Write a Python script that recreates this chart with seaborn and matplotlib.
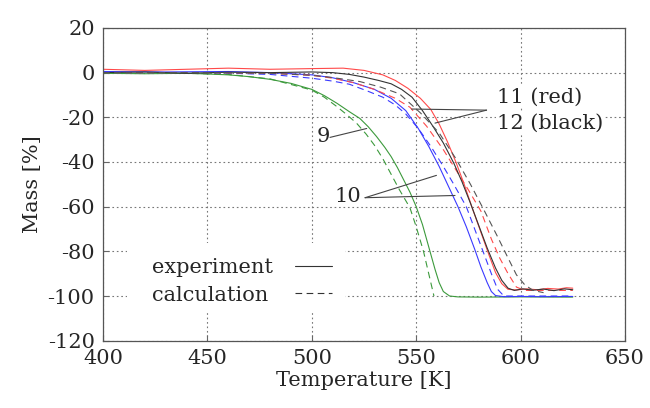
import seaborn as sns
import pandas as pd
import matplotlib.pyplot as plt
from matplotlib.patches import Rectangle

# 11 (red) - experiment / calculation
T_red_exp = [400, 420, 440, 460, 480, 500, 515, 525, 534, 540, 546, 552, 557, 561, 565, 569, 573, 577, 581, 585,
             588, 591, 594, 598, 603, 608, 613, 618, 622, 625]
M_red_exp = [1.5, 1.0, 1.5, 2.0, 1.5, 1.8, 2.0, 1.0, -1.0, -3.5, -7.0, -11.5, -16.5, -23.0, -31.0, -40.0, -50.0, -61.0,
             -71.5, -82.0, -89.5, -94.5, -97.0, -97.3, -96.8, -97.2, -96.6, -96.9, -96.3, -96.5]
T_red_calc = [400, 450, 480, 500, 510, 520, 530, 540, 547, 555, 563, 569, 575, 581, 586, 590, 594, 598, 602, 610, 625]
M_red_calc = [0.0, 0.0, -0.3, -1.2, -2.5, -4.5, -7.5, -11.5, -15.5, -24.0, -34.5, -43.5, -52.5, -62.0, -74.5, -83.0,
              -90.0, -96.0, -97.5, -97.5, -97.5]

# 12 (black)
T_blk_exp = [400, 420, 440, 460, 480, 500, 510, 518, 525, 532, 538, 543, 548, 553, 558, 563, 568, 572, 576, 580,
             584, 588, 591, 594, 597, 601, 606, 611, 616, 621, 625]
M_blk_exp = [0.0, 0.3, -0.3, 0.2, 0.0, 0.3, 0.0, -0.8, -2.0, -3.5, -5.0, -7.5, -11.0, -17.0, -24.0, -31.5, -40.5,
             -49.0, -58.5, -68.5, -78.5, -87.5, -93.0, -96.5, -97.5, -96.8, -97.4, -96.9, -97.6, -96.8, -97.2]
T_blk_calc = [400, 450, 480, 500, 510, 523, 533, 542, 552, 561, 569, 576, 583, 589, 594, 598, 602, 606, 611]
M_blk_calc = [0.0, 0.0, -0.3, -1.2, -2.2, -4.0, -6.5, -9.5, -18.0, -27.0, -38.5, -50.0, -62.5, -73.5, -83.0, -90.5,
              -95.0, -97.5, -98.5]

# 10 (blue)
T_blu_exp = [400, 430, 460, 480, 500, 510, 520, 530, 538, 545, 551, 556, 561, 566, 570, 574, 578, 581, 584, 586,
             588, 592, 600, 610, 625]
M_blu_exp = [0.5, 0.3, 0.5, 0.0, -1.0, -2.3, -4.5, -7.5, -11.5, -17.0, -25.0, -33.0, -42.0, -52.0, -60.0, -69.0,
             -79.0, -87.0, -94.0, -98.0, -99.8, -100.3, -100.2, -100.3, -100.2]
T_blu_calc = [400, 450, 480, 500, 510, 518, 526, 534, 540, 545, 551, 557, 563, 568, 574, 578, 582, 586, 589, 592,
              600, 610, 625]
M_blu_calc = [0.0, 0.0, -0.8, -2.5, -3.8, -5.2, -8.0, -11.0, -14.5, -18.5, -25.0, -33.0, -42.0, -50.0, -60.0, -70.0,
              -80.0, -90.0, -97.0, -100.0, -100.0, -100.0, -100.0]

# 9 (green)
T_grn_exp = [400, 420, 440, 450, 460, 470, 480, 490, 500, 506, 512, 518, 523, 527, 531, 535, 538, 541, 544, 547,
             550, 553, 556, 559, 561, 563, 566, 570, 580, 600, 625]
M_grn_exp = [-0.3, -0.5, -0.3, -0.6, -1.0, -1.8, -3.0, -4.8, -7.5, -10.3, -13.7, -17.5, -20.5, -24.2, -28.6, -33.5,
             -37.6, -42.5, -48.0, -53.5, -60.0, -68.0, -78.0, -88.0, -94.0, -98.0, -100.0, -100.4, -100.5, -100.4,
             -100.5]
T_grn_calc = [400, 440, 460, 480, 500, 506, 512, 517, 521.5, 526, 530, 534, 538, 542, 547, 550, 553.5, 556, 558.5]
M_grn_calc = [0.0, -0.3, -0.8, -2.8, -7.8, -11.0, -15.2, -19.0, -22.7, -27.5, -32.5, -38.5, -45.5, -52.5, -60.5,
              -69.0, -80.0, -90.0, -100.0]

x_ticks = [400, 450, 500, 550, 600, 650]
y_ticks = [-120, -100, -80, -60, -40, -20, 0, 20]
legend_labels = ['experiment', 'calculation']

sns.set_style("ticks")
plt.rcParams['font.family'] = ['DejaVu Serif']
plt.rcParams['axes.unicode_minus'] = False

fig = plt.figure(figsize=(6.5, 4.08), dpi=100)
ax = fig.add_axes([0.1585, 0.165, 0.803, 0.7665])

series = [
    (T_grn_exp, M_grn_exp, '#3c9a3c', '-'),
    (T_grn_calc, M_grn_calc, '#3c9a3c', '--'),
    (T_blu_exp, M_blu_exp, '#3a3aff', '-'),
    (T_blu_calc, M_blu_calc, '#3a3aff', '--'),
    (T_red_exp, M_red_exp, '#ff4a4a', '-'),
    (T_red_calc, M_red_calc, '#ff4a4a', '--'),
    (T_blk_exp, M_blk_exp, '#333333', '-'),
    (T_blk_calc, M_blk_calc, '#555555', '--'),
]
for T, M, c, ls in series:
    df = pd.DataFrame({'T': T, 'M': M})
    l = sns.lineplot(data=df, x='T', y='M', color=c, lw=0.8, estimator=None, sort=False, ax=ax)
    l.lines[-1].set_zorder(2)
    if ls == '--':
        l.lines[-1].set_dashes((6, 4))

ax.set_xlim(400, 650)
ax.set_ylim(-120, 20)
ax.set_xticks(x_ticks)
ax.set_yticks(y_ticks)
ax.set_axisbelow(True)
ax.grid(True, linestyle=(0, (1.5, 2.5)), color='#777777', lw=0.8)
ax.tick_params(direction='in', length=4, labelsize=15, color='#666666', pad=6)
for s in ax.spines.values():
    s.set_color('#555555')
    s.set_linewidth(0.9)
ax.set_xlabel('Temperature [K]', fontsize=15, labelpad=2)
ax.set_ylabel('Mass [%]', fontsize=15, labelpad=4)

# labels with leader lines
ax.text(505.4, -28.8, '9', fontsize=15, ha='center', va='center')
ax.plot([508.7, 526.3], [-29.0, -25.0], color='#444444', lw=0.8)
ax.text(517.3, -55.6, '10', fontsize=15, ha='center', va='center')
ax.plot([525.5, 559.7], [-56.0, -46.0], color='#444444', lw=0.8)
ax.plot([525.5, 568.6], [-56.0, -55.0], color='#444444', lw=0.8)
ax.text(588.7, -10.9, '11 (red)', fontsize=15, ha='left', va='center',
        bbox=dict(facecolor='white', edgecolor='none', pad=1))
ax.text(588.7, -22.5, '12 (black)', fontsize=15, ha='left', va='center',
        bbox=dict(facecolor='white', edgecolor='none', pad=1))
ax.plot([583.7, 547.8], [-16.8, -16.3], color='#444444', lw=0.8)
ax.plot([583.7, 559.0], [-16.8, -22.6], color='#444444', lw=0.8)

# legend: text on the left, line sample on the right, white box hiding the grid
ax.add_patch(Rectangle((0.046, 0.089), 0.418, 0.223, transform=ax.transAxes,
                       facecolor='white', edgecolor='none', zorder=1))
ax.text(0.094, 0.2325, legend_labels[0], transform=ax.transAxes, fontsize=15, va='center', zorder=3)
ax.text(0.094, 0.143, legend_labels[1], transform=ax.transAxes, fontsize=15, va='center', zorder=3)
ax.plot([0.368, 0.438], [0.239, 0.239], transform=ax.transAxes, color='#333333', lw=0.8, zorder=3)
ax.plot([0.368, 0.438], [0.1516, 0.1516], transform=ax.transAxes, color='#333333', lw=0.8,
        dashes=(6, 4), zorder=3)

fig.savefig('out.png', dpi=100, facecolor='white')
